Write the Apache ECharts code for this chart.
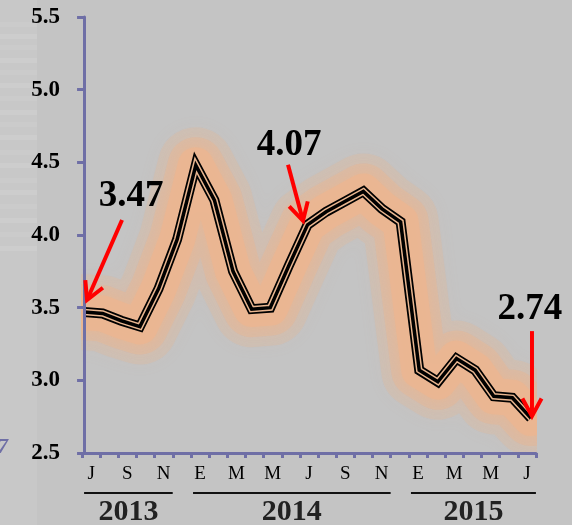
<!DOCTYPE html>
<html>
<head>
<meta charset="utf-8">
<script src="https://cdn.jsdelivr.net/npm/echarts@6/dist/echarts.min.js"></script>
<style>
html,body{margin:0;padding:0;background:#c4c4c4;}
#chart{width:572px;height:525px;}
</style>
</head>
<body>
<div id="chart"></div>
<script>
// Month initials (Spanish), Jul 2013 .. Jul 2015
const months = ['J','A','S','O','N','D','E','F','M','A','M','J','J','A','S','O','N','D','E','F','M','A','M','J','J'];
const rates = [3.47,3.46,3.41,3.37,3.63,3.97,4.48,4.24,3.75,3.49,3.50,3.79,4.07,4.16,4.23,4.30,4.18,4.09,3.07,2.99,3.15,3.07,2.89,2.88,2.74];
const years = ['2013','2014','2015'];
const yearFirstIdx = [0,6,18];
const yearLastLabelIdx = [4,16,24];
const callouts = [{idx:0,text:'3.47'},{idx:12,text:'4.07'},{idx:24,text:'2.74'}];
const yTicks = {min:2.5,max:5.5,interval:0.5};

const chart = echarts.init(document.getElementById('chart'));
const serif = '"Liberation Serif","DejaVu Serif",serif';
const axisColor = '#6f6fa6';
const bg = '#c4c4c4';
const points = rates.map((v,i)=>[i,v]);

const baseSeries = (w, color, extra) => Object.assign({
  type:'line', data:points, xAxisIndex:1, symbol:'none', smooth:false, clip:true, silent:true,
  lineStyle:{width:w,color:color,join:'miter'}, z:2
}, extra||{});
const glow = (w,a,blur) => baseSeries(w,'',{z:1,lineStyle:{width:w,color:'rgba(236,182,144,'+a+')',join:'round',cap:'round',shadowBlur:blur,shadowColor:'rgba(236,182,144,'+a+')'}});

chart.setOption({
  backgroundColor:bg,
  animation:false,
  grid:{left:82,right:36,top:17,bottom:72},
  xAxis:[{
    type:'category', data:months, boundaryGap:true, z:5,
    axisLine:{lineStyle:{color:axisColor,width:3}},
    axisTick:{show:true,interval:0,length:5,lineStyle:{color:axisColor,width:3}},
    axisLabel:{interval:1,color:'#000',fontFamily:serif,fontSize:19,margin:12},
    splitLine:{show:false}
  },{
    type:'value', min:-0.11, max:24.27, show:false, position:'bottom'
  }],
  yAxis:{
    type:'value', min:yTicks.min, max:yTicks.max, interval:yTicks.interval, z:5,
    axisLine:{show:true,lineStyle:{color:axisColor,width:3}},
    axisTick:{show:true,length:7,lineStyle:{color:axisColor,width:3}},
    axisLabel:{color:'#000',fontFamily:serif,fontWeight:'bold',fontSize:23,margin:22,
      formatter:v=>v.toFixed(1)},
    splitLine:{show:false}
  },
  series:[
    glow(76,0.25,16),
    glow(56,0.4,12),
    glow(36,0.75,8),
    baseSeries(10,'#000'),
    baseSeries(6.5,'#e9b690'),
    baseSeries(3.5,'#000')
  ]
});

function px(i,v){return chart.convertToPixel({xAxisIndex:0,yAxisIndex:0},[i,v]);}
function ppx(i,v){return chart.convertToPixel({xAxisIndex:1,yAxisIndex:0},[i,v]);}
const graphics = [];
// covers outside the plot area (glow clip margin)
graphics.push({type:'rect',shape:{x:0,y:454,width:572,height:71},style:{fill:bg},z:1.5,silent:true});
graphics.push({type:'rect',shape:{x:537,y:0,width:35,height:525},style:{fill:bg},z:1.5,silent:true});
graphics.push({type:'rect',shape:{x:0,y:0,width:81,height:525},style:{fill:bg},z:1.5,silent:true});
// left decorative strip
graphics.push({type:'rect',shape:{x:0,y:0,width:37,height:525},style:{fill:'#c8c8c8'},z:1.6,silent:true});
const stripeYs=[22,34,45,58,70,83,96,110,122,135,150,163,178,190,204,218,232,246];
stripeYs.forEach((y,k)=>graphics.push({type:'rect',shape:{x:0,y:y,width:37,height:5},style:{fill:k%2?'#cdcdcd':'#cbcbcb'},z:1.7,silent:true}));
graphics.push({type:'text',x:-3,y:436,style:{text:'7',font:'italic bold 22px '+serif,fill:axisColor},z:6});

// year labels + underlines
years.forEach((yr,k)=>{
  const x1 = px(yearFirstIdx[k],3)[0]-7;
  const x2 = px(yearLastLabelIdx[k],3)[0]+9;
  graphics.push({type:'line',shape:{x1:x1,y1:493,x2:x2,y2:493},style:{stroke:'#111',lineWidth:2},z:6});
  graphics.push({type:'text',x:(x1+x2)/2,y:512,style:{text:yr,font:'bold 30px '+serif,fill:'#222',align:'center',verticalAlign:'middle'},z:6});
});

// callouts with red arrows
const arrowGeom = [
  {tip:[3,-12],tail:[38,-92],text:[47,-116]},
  {tip:[-4.5,-4],tail:[-19.5,-60],text:[-18.5,-79]},
  {tip:[1,-2],tail:[1,-87],text:[-1,-109]}
];
callouts.forEach((c,k)=>{
  const p = ppx(c.idx,rates[c.idx]);
  const g = arrowGeom[k];
  const tip=[p[0]+g.tip[0],p[1]+g.tip[1]], tail=[p[0]+g.tail[0],p[1]+g.tail[1]];
  const ang = Math.atan2(tip[1]-tail[1],tip[0]-tail[0]);
  const hl=20, ha=0.5;
  const h1=[tip[0]-hl*Math.cos(ang-ha),tip[1]-hl*Math.sin(ang-ha)];
  const h2=[tip[0]-hl*Math.cos(ang+ha),tip[1]-hl*Math.sin(ang+ha)];
  graphics.push({type:'line',shape:{x1:tail[0],y1:tail[1],x2:tip[0],y2:tip[1]},style:{stroke:'#ff0000',lineWidth:4},z:10});
  graphics.push({type:'polyline',shape:{points:[h1,tip,h2]},style:{stroke:'#ff0000',lineWidth:4,fill:null,lineJoin:'miter'},z:10});
  graphics.push({type:'text',x:p[0]+g.text[0],y:p[1]+g.text[1],style:{text:c.text,font:'bold 37px '+serif,fill:'#000',align:'center',verticalAlign:'middle'},z:10});
});
chart.setOption({graphic:graphics});
</script>
</body>
</html>
